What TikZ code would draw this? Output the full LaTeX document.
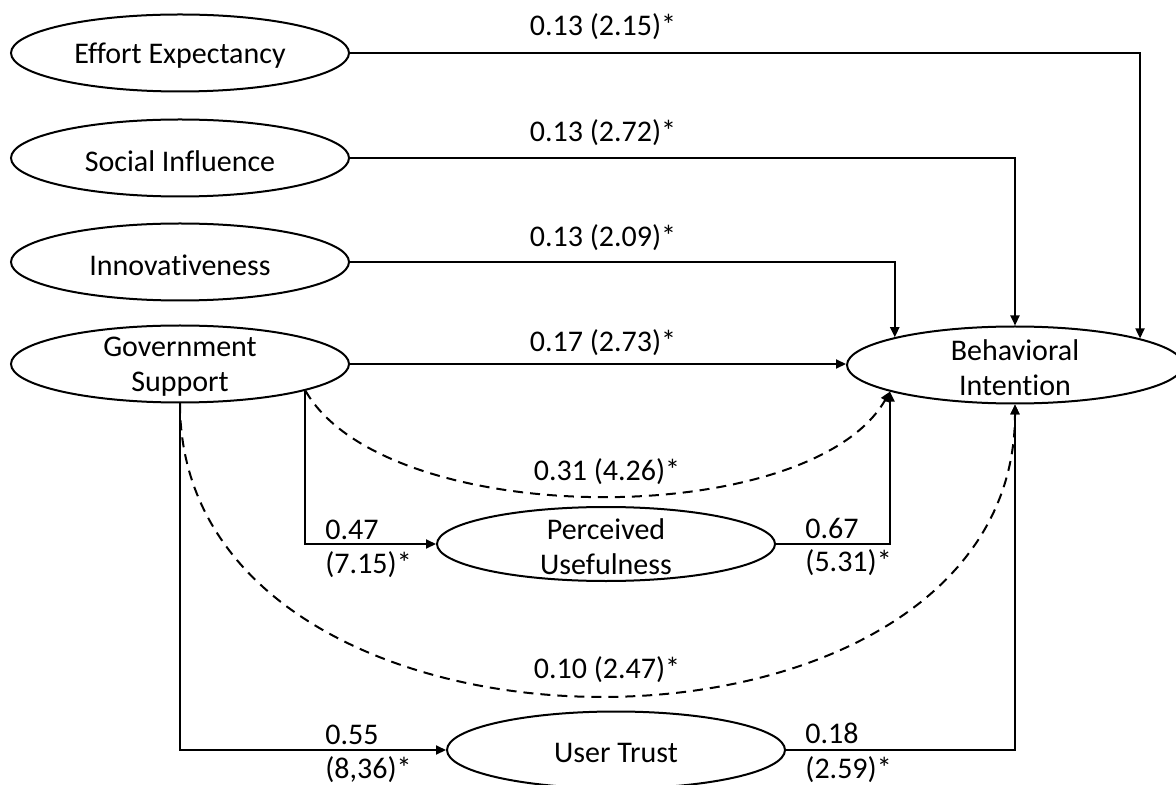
\documentclass[tikz,border=0pt]{standalone}
\usepackage{fontspec}
\setmainfont{Carlito}[Ligatures=NoCommon]
\usetikzlibrary{shapes.geometric,arrows.meta,calc}
\begin{document}
\begin{tikzpicture}[x=0.5pt,y=-0.5pt,
  construct/.style={ellipse,draw,line width=1pt,inner sep=0pt,minimum width=169pt,minimum height=38.5pt},
  ctext/.style={align=center,inner sep=0pt,yshift=-1.5pt,font=\fontsize{15}{17.5}\selectfont},
  link/.style={line width=1pt,-{Triangle[length=5pt,width=4.5pt]}},
  indirect/.style={link,dash pattern=on 5pt off 3.5pt},
  coef/.style={font=\fontsize{15}{17}\selectfont,inner sep=0pt},
]
\clip (0,0) rectangle (1176,785);
\node[construct,label={[ctext]center:Effort Expectancy}] (ee) at (180,53) {};
\node[construct,label={[ctext]center:Social Influence}] (si) at (180,158) {};
\node[construct,label={[ctext]center:Innovativeness}] (inn) at (180,262) {};
\node[construct,label={[ctext]center:Government\\Support}] (gs) at (180,364) {};
\node[construct,minimum width=168pt,label={[ctext]center:Behavioral\\Intention}] (bi) at (1015,365) {};
\node[construct,minimum height=37pt,label={[ctext]center:Perceived\\Usefulness}] (pu) at (606,544) {};
\node[construct,label={[ctext]center:User Trust}] (ut) at (616,750) {};

\draw[link] (ee.east) -| (bi.12.8);
\draw[link] (si.east) -| (bi.north);
\draw[link] (inn.east) -| (bi.167.2);
\draw[link] (gs.east) -- (gs.east -| bi.west);
\draw[link] (gs.-12.8) |- (pu.west);
\draw[link] (pu.east) -| (bi.192.8);
\draw[link] (gs.south) |- (ut.west);
\draw[link] (ut.east) -| (bi.south);
\draw[indirect] (gs.-12.8) .. controls +(80,140) and +(-80,140) .. (bi.192.8);
\draw[indirect] (gs.south) .. controls +(0,389) and +(0,389) .. (bi.south);

\node[coef] (l1) at (603,27) {0.13 (2.15)*};
\node[coef] (l2) at (603,133) {0.13 (2.72)*};
\node[coef] (l3) at (603,238) {0.13 (2.09)*};
\node[coef] (l4) at (603,343) {0.17 (2.73)*};
\node[coef] (l5) at (607,472) {0.31 (4.26)*};
\node[coef] (l6) at (607,670) {0.10 (2.47)*};
\node[coef,anchor=west] (l7) at (325,530) {0.47};
\node[coef,anchor=west] (l8) at (325,565) {(7.15)*};
\node[coef,anchor=west] (l9) at (805,528) {0.67};
\node[coef,anchor=west] (l10) at (805,563) {(5.31)*};
\node[coef,anchor=west] (l11) at (325,735) {0.55};
\node[coef,anchor=west] (l12) at (325,770) {(8,36)*};
\node[coef,anchor=west] (l13) at (805,733) {0.18};
\node[coef,anchor=west] (l14) at (805,770) {(2.59)*};
\end{tikzpicture}
\end{document}
